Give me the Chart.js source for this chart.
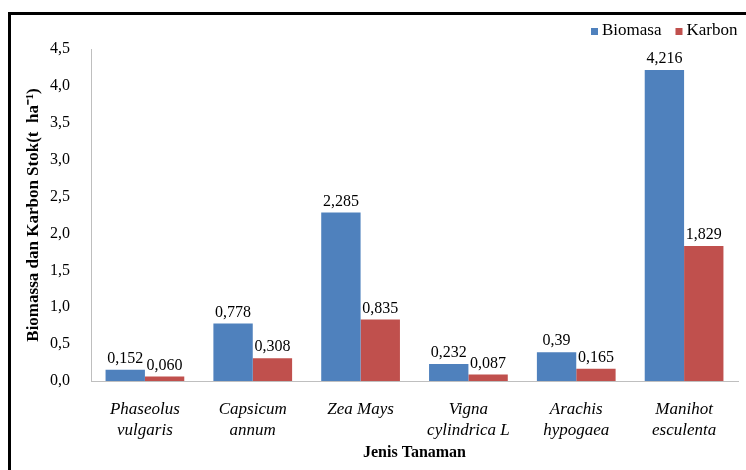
<!DOCTYPE html>
<html>
<head>
<meta charset="utf-8">
<script src="https://cdn.jsdelivr.net/npm/chart.js@4.4.0/dist/chart.umd.min.js"></script>
<style>
    html, body { margin: 0; padding: 0; background: #ffffff; }
    #mainContentDivId { width: 746px; height: 470px; position: relative; }
</style>
</head>
<body>
<div id="mainContentDivId"></div>
<script>
let mainContentDiv;
let chartCanvas;

const categories = [
    ['Phaseolus', 'vulgaris'],
    ['Capsicum', 'annum'],
    ['Zea Mays'],
    ['Vigna', 'cylindrica L'],
    ['Arachis', 'hypogaea'],
    ['Manihot', 'esculenta']
];
const biomasaValues = [0.152, 0.778, 2.285, 0.232, 0.39, 4.216];
const karbonValues = [0.060, 0.308, 0.835, 0.087, 0.165, 1.829];
const biomasaLabels = ['0,152', '0,778', '2,285', '0,232', '0,39', '4,216'];
const karbonLabels = ['0,060', '0,308', '0,835', '0,087', '0,165', '1,829'];
const yTicks = ['0,0', '0,5', '1,0', '1,5', '2,0', '2,5', '3,0', '3,5', '4,0', '4,5'];

const serif = "'Liberation Serif', 'Times New Roman', serif";

window.addEventListener("DOMContentLoaded", init);


// black frame on the left and top edges of the picture
const framePlugin = {
    id: 'frame',
    beforeDraw(chart) {
        const ctx = chart.ctx;
        ctx.save();
        ctx.fillStyle = '#000000';
        ctx.fillRect(8, 12, 3, 470);
        ctx.fillRect(8, 12, 746, 3);
        ctx.restore();
    }
};

// values written over each bar
const barLabelPlugin = {
    id: 'barLabels',
    afterDatasetsDraw(chart) {
        const ctx = chart.ctx;
        ctx.save();
        ctx.font = "16px " + serif;
        ctx.fillStyle = '#000000';
        ctx.textAlign = 'center';
        ctx.textBaseline = 'bottom';
        chart.data.datasets.forEach(function (ds, i) {
            const meta = chart.getDatasetMeta(i);
            meta.data.forEach(function (bar, j) {
                ctx.fillText(ds.valueLabels[j], bar.x, bar.y - 3);
            });
        });
        ctx.restore();
    }
};

// small legend in the top right corner
const legendPlugin = {
    id: 'cornerLegend',
    afterDraw(chart) {
        const ctx = chart.ctx;
        ctx.save();
        ctx.font = "17px " + serif;
        ctx.textBaseline = 'middle';
        ctx.textAlign = 'left';
        let x = 591;
        const y = 31;
        chart.data.datasets.forEach(function (ds) {
            ctx.fillStyle = ds.backgroundColor;
            ctx.fillRect(x, y - 3, 7, 7);
            ctx.fillStyle = '#000000';
            ctx.fillText(ds.label, x + 11, y);
            x += 11 + ctx.measureText(ds.label).width + 14;
        });
        ctx.restore();
    }
};


function init() {

    mainContentDiv = document.getElementById("mainContentDivId");
    chartCanvas = document.createElement("canvas");
    chartCanvas.setAttribute("id", "chartCanvasId");
    mainContentDiv.appendChild(chartCanvas);

    new Chart(chartCanvas, {
        type: 'bar',
        data: {
            labels: categories,
            datasets: [{
                label: 'Biomasa',
                data: biomasaValues,
                valueLabels: biomasaLabels,
                backgroundColor: '#4F81BD'
            }, {
                label: 'Karbon',
                data: karbonValues,
                valueLabels: karbonLabels,
                backgroundColor: '#C0504D'
            }]
        },
        options: {
            responsive: true,
            maintainAspectRatio: false,
            animation: false,
            layout: {
                padding: { left: 14, top: 49, right: 8, bottom: 0 }
            },
            plugins: {
                legend: { display: false },
                tooltip: { enabled: false }
            },
            datasets: {
                bar: {
                    categoryPercentage: 0.73,
                    barPercentage: 1.0
                }
            },
            scales: {
                x: {
                    grid: { display: false, drawTicks: false },
                    border: { display: true, color: '#bfbfbf', width: 1 },
                    ticks: {
                        color: '#000000',
                        padding: 18,
                        maxRotation: 0,
                        autoSkip: false,
                        font: { family: serif, size: 17, style: 'italic', lineHeight: 1.25 }
                    },
                    title: {
                        display: true,
                        text: 'Jenis Tanaman',
                        color: '#000000',
                        padding: { top: 0, bottom: 8 },
                        font: { family: serif, size: 16, weight: 'bold', lineHeight: 1.2 }
                    },
                    afterFit(scale) { scale.height = 89; }
                },
                y: {
                    min: 0,
                    max: 4.5,
                    grid: { display: false, drawTicks: false },
                    border: { display: true, color: '#bfbfbf', width: 1 },
                    ticks: {
                        stepSize: 0.5,
                        color: '#000000',
                        padding: 21,
                        font: { family: serif, size: 16 },
                        callback: function (value, index) { return yTicks[index]; }
                    },
                    title: {
                        display: true,
                        text: 'Biomassa dan Karbon Stok(t  ha\u207B\u00B9)',
                        color: '#000000',
                        padding: { top: 9, bottom: 0 },
                        font: { family: serif, size: 17, weight: 'bold', lineHeight: 1.2 }
                    },
                    afterFit(scale) { scale.width = 77; }
                }
            }
        },
        plugins: [framePlugin, barLabelPlugin, legendPlugin]
    });
}
</script>
</body>
</html>
